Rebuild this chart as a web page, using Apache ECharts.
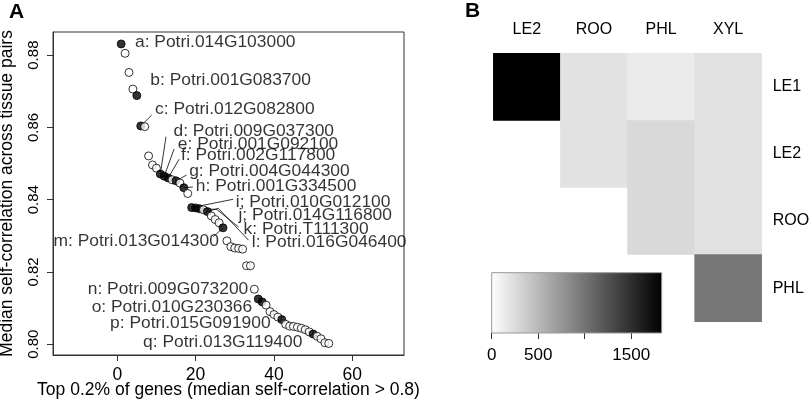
<!DOCTYPE html>
<html><head><meta charset="utf-8">
<script src="https://cdn.jsdelivr.net/npm/echarts@6/dist/echarts.min.js"></script>
<style>html,body{margin:0;padding:0;background:#fff}#c{width:810px;height:407px}</style>
</head><body><div id="c"></div>
<script>
// ---------- Panel A data ----------
const ranks = [1,2,3,4,5,6,7,8,9,10,11,12,13,14,15,16,17,18,19,20,21,22,23,24,25,26,27,28,29,30,31,32,33,34,35,36,37,38,39,40,41,42,43,44,45,46,47,48,49,50,51,52,53,54];
const selfCorr = [0.8831,0.8805,0.8752,0.8706,0.8688,0.8604,0.8602,0.8521,0.8496,0.8487,
  0.8471,0.8465,0.8460,0.8455,0.8452,0.8446,0.8433,0.8417,0.8378,0.8377,
  0.8375,0.8372,0.8367,0.8355,0.8345,0.8336,0.8322,0.8286,0.8270,0.8266,
  0.8265,0.8263,0.8217,0.8217,0.8152,0.8125,0.8117,0.8108,0.8090,0.8082,
  0.8075,0.8068,0.8055,0.8050,0.8049,0.8047,0.8044,0.8040,0.8034,0.8028,
  0.8022,0.8015,0.8004,0.8002];
const labelledRanks = [1,5,6,11,12,13,15,17,19,20,21,23,27,36,37,42,50];
const geneLabels = ['a: Potri.014G103000','b: Potri.001G083700','c: Potri.012G082800','d: Potri.009G037300',
  'e: Potri.001G092100','f: Potri.002G117800','g: Potri.004G044300','h: Potri.001G334500',
  'i; Potri.010G012100','j; Potri.014G116800','k: Potri.T111300','l: Potri.016G046400',
  'm: Potri.013G014300','n: Potri.009G073200','o: Potri.010G230366','p: Potri.015G091900','q: Potri.013G119400'];
// label anchor (data coords) and side of the anchor the text sits on
const labelAnchorX = [4.27,8.2,9.4,14.1,15.2,16.0,18.1,19.8,30.0,30.7,32.0,34.1,26.2,33.7,34.7,39.4,47.5];
const labelAnchorY = [0.8837,0.8731,0.8650,0.8590,0.8554,0.8524,0.8480,0.8436,0.8394,0.8357,0.8318,0.8281,0.8285,0.8152,0.8103,0.8057,0.8005];
const labelSide = ['right','right','right','right','right','right','right','right','right','right','right','right','left','left','left','left','left'];
// leader lines: start / bend points (data coords), ending at the labelled gene rank
const leaderStarts = [
  {rank:6,  pts:[[8.79,0.8634]]},
  {rank:11, pts:[[12.44,0.8574]]},
  {rank:12, pts:[[14.5,0.8540]]},
  {rank:13, pts:[[15.8,0.8512]]},
  {rank:15, pts:[[17.7,0.8468]]},
  {rank:17, pts:[[19.3,0.8435]]},
  {rank:19, pts:[[29.6,0.8401]]},
  {rank:21, pts:[[31.0,0.8324],[25.4,0.8373]]},
  {rank:23, pts:[[33.5,0.8288],[25.8,0.8376]]},
  {rank:27, pts:[[24.5,0.8297]]}
];
// ---------- Panel B data ----------
const tissueCols = ['LE2','ROO','PHL','XYL'];
const tissueRows = ['LE1','LE2','ROO','PHL'];
// [colIndex, rowIndex, count]
const heatValues = [
  [0,0,1830],[1,0,208],[2,0,151],[3,0,215],
  [1,1,208],[2,1,273],[3,1,215],
  [2,2,273],[3,2,215],
  [3,3,976]
];
const colorMin = 0, colorMax = 1830;
const colorbarTicks = [0,500,1000,1500];
const colorbarLabels = [0,500,1500];
const xTicks = [0,20,40,60];
const yTicks = [0.80,0.82,0.84,0.86,0.88];

const FONT = '"Liberation Sans", Arial, Helvetica, sans-serif';
const chart = echarts.init(document.getElementById('c'));

const pointData = ranks.map((r,i)=>{
  const filled = labelledRanks.indexOf(r) >= 0;
  return {value:[r, selfCorr[i]], itemStyle:{color: filled ? '#000' : '#fff', borderColor:'#000', borderWidth:1}};
});
const labelData = geneLabels.map((t,i)=>({
  value:[labelAnchorX[i], labelAnchorY[i]], name:t,
  label:{position: labelSide[i]}
}));
const leaderData = leaderStarts.map(l=>{
  const idx = ranks.indexOf(l.rank);
  return {coords: l.pts.concat([[ranks[idx], selfCorr[idx]]])};
});

chart.setOption({
  animation:false,
  textStyle:{fontFamily:FONT},
  grid:[
    {left:53, top:32, width:351, height:323, show:true, borderColor:'#333', borderWidth:1, outerBoundsMode:'none', containLabel:false},
    {left:493.3, top:53.3, width:268.4, height:268.4, outerBoundsMode:'none', containLabel:false},
    {left:491.7, top:272.7, width:170, height:60.3, outerBoundsMode:'none', containLabel:false}
  ],
  xAxis:[
    {type:'value', gridIndex:0, min:-16.4, max:73.2,
     axisLine:{show:true, onZero:false, lineStyle:{color:'#333'}},
     axisTick:{show:true, customValues:xTicks, length:6, lineStyle:{color:'#333'}},
     axisLabel:{customValues:xTicks, fontSize:17.5, color:'#000', margin:11, fontFamily:FONT},
     splitLine:{show:false},
     name:'Top 0.2% of genes (median self-correlation > 0.8)', nameLocation:'middle', nameGap:26, nameMoveOverlap:false,
     nameTextStyle:{fontSize:17.5, color:'#000', fontFamily:FONT}},
    {type:'category', gridIndex:1, data:tissueCols, position:'top',
     axisLine:{show:false}, axisTick:{show:false},
     axisLabel:{fontSize:16, color:'#000', margin:16, fontFamily:FONT}, splitLine:{show:false}},
    {type:'value', gridIndex:2, min:colorMin, max:1828,
     axisLine:{show:false},
     axisTick:{show:true, customValues:colorbarTicks, length:6, lineStyle:{color:'#333'}},
     axisLabel:{customValues:colorbarLabels, fontSize:17, color:'#000', margin:14, fontFamily:FONT,
       formatter:v=>String(v)},
     splitLine:{show:false}}
  ],
  yAxis:[
    {type:'value', gridIndex:0, min:0.797, max:0.8864,
     axisLine:{show:true, onZero:false, lineStyle:{color:'#333'}},
     axisTick:{show:true, customValues:yTicks, length:6, lineStyle:{color:'#333'}},
     axisLabel:{customValues:yTicks, rotate:90, fontSize:15, color:'#000', margin:12,
       formatter:v=>v.toFixed(2), fontFamily:FONT},
     splitLine:{show:false},
     name:'Median self-correlation across tissue pairs', nameLocation:'middle', nameGap:37, nameRotate:90,
     nameTextStyle:{fontSize:17.5, color:'#000', fontFamily:FONT}},
    {type:'category', gridIndex:1, data:tissueRows, inverse:true, position:'right',
     axisLine:{show:false}, axisTick:{show:false},
     axisLabel:{fontSize:16, color:'#000', margin:11, align:'left', fontFamily:FONT}, splitLine:{show:false}},
    {type:'value', gridIndex:2, min:0, max:1, show:false}
  ],
  visualMap:{show:false, min:colorMin, max:colorMax, dimension:2, seriesIndex:3,
    inRange:{color:['#ffffff','#000000']}},
  series:[
    {type:'lines', coordinateSystem:'cartesian2d', xAxisIndex:0, yAxisIndex:0, polyline:true,
     data:leaderData, lineStyle:{color:'#000', width:0.8, opacity:1}, z:1, silent:true},
    {type:'scatter', xAxisIndex:0, yAxisIndex:0, data:pointData, symbol:'circle', symbolSize:8, z:2, silent:true},
    {type:'scatter', xAxisIndex:0, yAxisIndex:0, data:labelData, symbolSize:0, z:3, silent:true,
     label:{show:true, formatter:p=>p.name, fontSize:17.4, color:'#000', distance:1, fontFamily:FONT}},
    {type:'heatmap', xAxisIndex:1, yAxisIndex:1, data:heatValues, silent:true, itemStyle:{borderWidth:0}},
    {type:'custom', xAxisIndex:2, yAxisIndex:2, silent:true, data:[[colorMin, 1828]],
     encode:{x:[0,1]},
     renderItem:(params, api)=>{
       const p0 = api.coord([api.value(0), 0]);
       const p1 = api.coord([api.value(1), 1]);
       return {type:'rect', shape:{x:p0[0], y:p1[1], width:p1[0]-p0[0], height:p0[1]-p1[1]},
         style:{fill:new echarts.graphic.LinearGradient(0,0,1,0,[{offset:0,color:'#ffffff'},{offset:1,color:'#000000'}]),
           stroke:'#999', lineWidth:1}};
     }}
  ],
  graphic:[
    {type:'text', left:9, top:2, style:{text:'A', font:'bold 21px '+FONT, fill:'#000'}},
    {type:'text', left:465, top:1, style:{text:'B', font:'bold 21px '+FONT, fill:'#000'}}
  ]
});
</script></body></html>
